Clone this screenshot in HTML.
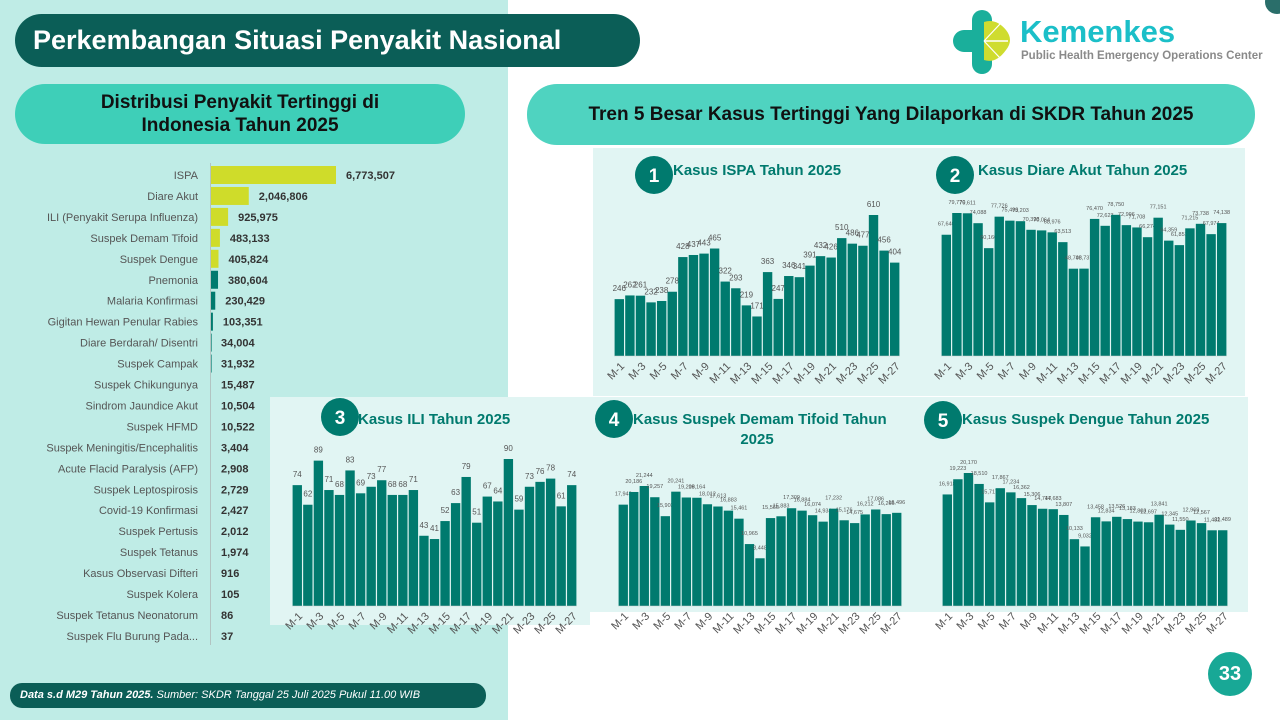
<!DOCTYPE html>
<html><head><meta charset="utf-8"><style>
body{margin:0;width:1280px;height:720px;overflow:hidden;background:#fff;font-family:"Liberation Sans","DejaVu Sans",sans-serif;position:relative}
.abs{position:absolute}
</style></head><body>
<div class="abs" style="left:0;top:0;width:508px;height:720px;background:#bfece6"></div>
<div class="abs" style="left:15px;top:14px;width:625px;height:53px;background:#0b5e57;border-radius:27px;color:#fff;font-weight:bold;font-size:27px;line-height:53px;text-indent:18px">Perkembangan Situasi Penyakit Nasional</div>
<div class="abs" style="left:15px;top:84px;width:450px;height:60px;background:#3ecfb8;border-radius:30px;color:#111;font-weight:bold;font-size:19px;line-height:23px;text-align:center;padding-top:7px;box-sizing:border-box">Distribusi Penyakit Tertinggi di<br>Indonesia Tahun 2025</div>
<div class="abs" style="left:527px;top:84px;width:728px;height:61px;background:#4fd3c0;border-radius:30px;color:#111;font-weight:bold;font-size:19px;line-height:61px;text-align:center">Tren 5 Besar Kasus Tertinggi Yang Dilaporkan di SKDR Tahun 2025</div>
<div class="abs" style="left:10px;top:683px;width:476px;height:25px;background:#0b5e57;border-radius:12px;color:#fff;font-style:italic;font-size:11px;line-height:25px;text-indent:10px"><b>Data s.d M29 Tahun 2025.</b> Sumber: SKDR Tanggal 25 Juli 2025 Pukul 11.00 WIB</div>
<div class="abs" style="left:1208px;top:652px;width:44px;height:44px;border-radius:50%;background:#18a896;color:#fff;font-weight:bold;font-size:20px;line-height:44px;text-align:center">33</div>
<div class="abs" style="left:1265px;top:-10px;width:24px;height:24px;border-radius:50%;background:#2a6e6a"></div>
<svg class="abs" style="left:0;top:0" width="1280" height="720" id="s"></svg>
<script>
var s=document.getElementById('s'),h='';
// logo
h+='<rect x="972" y="10" width="20" height="64" rx="10" fill="#1aaf9b"/><rect x="953" y="30" width="40" height="22" rx="11" fill="#1aaf9b"/>';
h+='<path d="M984 22 Q996 18 1006 30 Q1014 40 1006 50 Q996 64 984 60 Z" fill="#cfdc2f"/>';
h+='<line x1="984" y1="41" x2="1008" y2="41" stroke="#fff" stroke-width="1.5"/><line x1="984" y1="41" x2="1000" y2="24" stroke="#fff" stroke-width="1.2"/><line x1="984" y1="41" x2="1000" y2="58" stroke="#fff" stroke-width="1.2"/>';
h+='<text x="1020" y="42" font-size="31" font-weight="bold" fill="#1bbfc8">Kemenkes</text>';
h+='<text x="1021" y="59" font-size="11.5" font-weight="bold" fill="#8a8a8a">Public Health Emergency Operations Center</text>';
// panels
h+='<rect x="593" y="148" width="652" height="248" fill="#e1f5f3"/>';
h+='<rect x="590" y="397" width="658" height="215" fill="#e1f5f3"/>';
h+='<rect x="270" y="397" width="320" height="228" fill="#e1f5f3"/>';
// left bars
var L=[["ISPA",6773507],["Diare Akut",2046806],["ILI (Penyakit Serupa Influenza)",925975],["Suspek Demam Tifoid",483133],["Suspek Dengue",405824],["Pnemonia",380604],["Malaria Konfirmasi",230429],["Gigitan Hewan Penular Rabies",103351],["Diare Berdarah/ Disentri",34004],["Suspek Campak",31932],["Suspek Chikungunya",15487],["Sindrom Jaundice Akut",10504],["Suspek HFMD",10522],["Suspek Meningitis/Encephalitis",3404],["Acute Flacid Paralysis (AFP)",2908],["Suspek Leptospirosis",2729],["Covid-19 Konfirmasi",2427],["Suspek Pertusis",2012],["Suspek Tetanus",1974],["Kasus Observasi Difteri",916],["Suspek Kolera",105],["Suspek Tetanus Neonatorum",86],["Suspek Flu Burung Pada...",37]];
h+='<line x1="210.5" y1="163" x2="210.5" y2="645" stroke="#aaa" stroke-width="0.6"/>';
L.forEach(function(d,i){var y=175+i*20.95,w=d[1]/6773507*125;
h+='<text x="198" y="'+(y+4)+'" font-size="11" fill="#555" text-anchor="end">'+d[0]+'</text>';
if(w>0.5)h+='<rect x="211" y="'+(y-9)+'" width="'+w+'" height="18" fill="'+(i<5?'#cfdc2a':'#007a6e')+'"/>';
var vx=i<8?211+w+10:221;
h+='<text x="'+vx+'" y="'+(y+4)+'" font-size="11" font-weight="bold" fill="#333">'+d[1].toLocaleString('en-US')+'</text>';});
function chart(x0,x1,base,maxv,maxh,data,fs,big){var n=data.length,p=(x1-x0)/n;
data.forEach(function(v,i){var bh=v/maxv*maxh,x=x0+i*p;
h+='<rect x="'+(x+0.6)+'" y="'+(base-bh)+'" width="'+(p-1.2)+'" height="'+bh+'" fill="#007a6e"/>';
h+='<text x="'+(x+p/2)+'" y="'+(base-bh-(big?8:9))+'" font-size="'+fs+'" fill="#555" text-anchor="middle">'+v.toLocaleString('en-US')+'</text>';
if(i%2==0){var cx=x+p/2+3,cy=base+8;h+='<text transform="translate('+cx+','+cy+') rotate(-45)" font-size="11" fill="#555" text-anchor="end" dy="4">M-'+(i+1)+'</text>';}});
h+='<line x1="'+x0+'" y1="'+base+'" x2="'+x1+'" y2="'+base+'" stroke="#ccc" stroke-width="0.6"/>';}
chart(614,900,356,610,141,[246,262,261,232,238,278,428,437,443,465,322,293,219,171,363,247,346,341,391,432,426,510,486,477,610,456,404],8,1);
chart(941,1227,356,79770,143,[67640,79770,79611,74088,60160,77726,75499,75203,70398,70064,68976,63513,48708,48737,76470,72623,78750,72996,71708,66274,77151,64359,61851,71215,73738,67974,74138],5.5,0);
chart(292,577,606,90,147,[74,62,89,71,68,83,69,73,77,68,68,71,43,41,52,63,79,51,67,64,90,59,73,76,78,61,74],8,1);
chart(618,902,606,21244,120,[17943,20186,21244,19257,15903,20241,19208,19164,18012,17613,16883,15461,10965,8448,15566,15883,17309,16884,16074,14934,17232,15176,14675,16212,17086,16266,16496],5.5,0);
chart(942,1228,606,20170,133,[16918,19223,20170,18510,15717,17867,17234,16362,15306,14747,14683,13807,10133,9032,13458,12834,13526,13183,12803,12697,13841,12345,11550,12969,12567,11482,11489],5.5,0);
function title(cx,cy,num,tx,ty,t,t2){h+='<circle cx="'+cx+'" cy="'+cy+'" r="19" fill="#007a6e"/><text x="'+cx+'" y="'+(cy+7)+'" font-size="19" font-weight="bold" fill="#fff" text-anchor="middle">'+num+'</text><text x="'+tx+'" y="'+ty+'" font-size="15" font-weight="bold" fill="#007a6e">'+t+'</text>';if(t2)h+='<text x="757" y="444" font-size="15" font-weight="bold" fill="#007a6e" text-anchor="middle">'+t2+'</text>';}
title(654,175,1,673,175,"Kasus ISPA Tahun 2025");
title(955,175,2,978,175,"Kasus Diare Akut Tahun 2025");
title(340,417,3,358,424,"Kasus ILI Tahun 2025");
title(614,419,4,633,424,"Kasus Suspek Demam Tifoid Tahun","2025");
title(943,420,5,962,424,"Kasus Suspek Dengue Tahun 2025");
s.innerHTML=h;
</script>
</body></html>
